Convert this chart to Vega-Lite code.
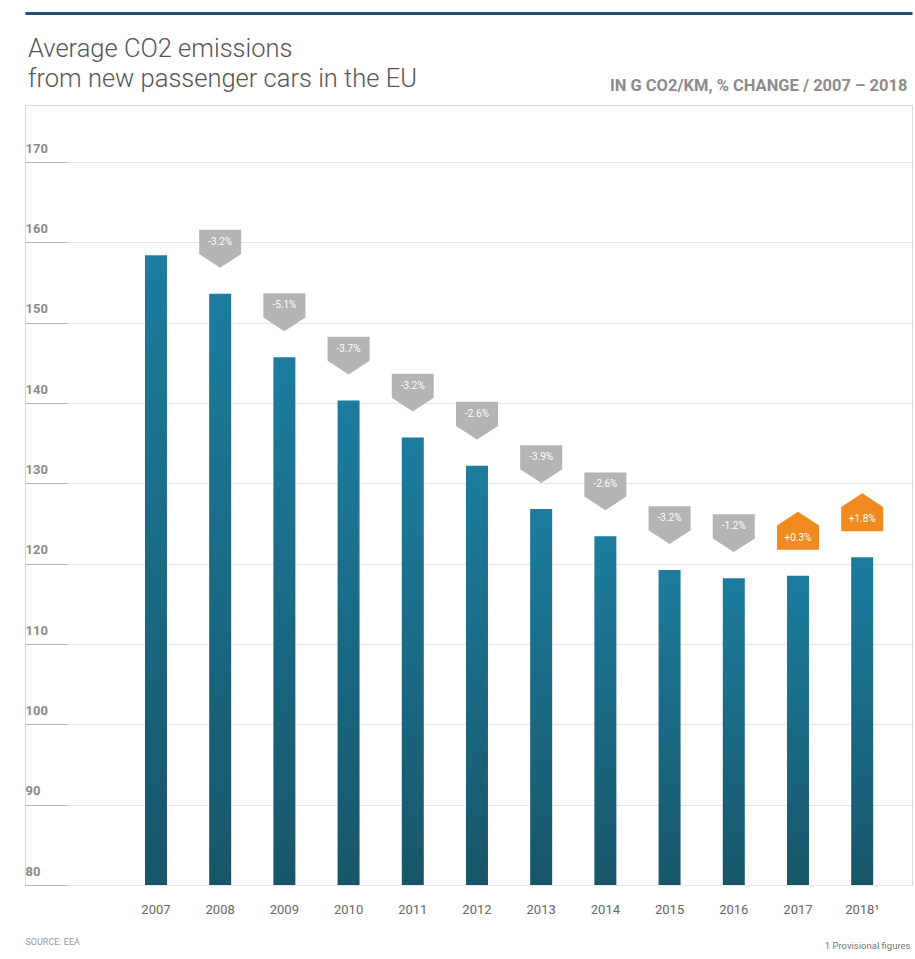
{
  "$schema": "https://vega.github.io/schema/vega-lite/v6.json",
  "autosize": "none",
  "width": 887,
  "height": 780,
  "padding": {"left": 25, "top": 105, "right": 3, "bottom": 74},
  "background": "white",
  "title": {
    "text": ["Average CO2 emissions", "from new passenger cars in the EU"],
    "anchor": "start",
    "frame": "group",
    "font": "Roboto",
    "fontWeight": 300,
    "fontSize": 25.5,
    "lineHeight": 30,
    "color": "#555555",
    "offset": -79,
    "dx": 3
  },
  "config": {
    "view": {"stroke": "#d9d9d9", "strokeWidth": 1},
    "font": "Roboto"
  },
  "data": {
    "values": [
      {"year": "2007", "value": 158.4, "pct": null, "dir": null},
      {"year": "2008", "value": 153.6, "pct": "-3.2%", "dir": "down"},
      {"year": "2009", "value": 145.7, "pct": "-5.1%", "dir": "down"},
      {"year": "2010", "value": 140.3, "pct": "-3.7%", "dir": "down"},
      {"year": "2011", "value": 135.7, "pct": "-3.2%", "dir": "down"},
      {"year": "2012", "value": 132.2, "pct": "-2.6%", "dir": "down"},
      {"year": "2013", "value": 126.8, "pct": "-3.9%", "dir": "down"},
      {"year": "2014", "value": 123.4, "pct": "-2.6%", "dir": "down"},
      {"year": "2015", "value": 119.2, "pct": "-3.2%", "dir": "down"},
      {"year": "2016", "value": 118.2, "pct": "-1.2%", "dir": "down"},
      {"year": "2017", "value": 118.5, "pct": "+0.3%", "dir": "up"},
      {"year": "2018¹", "value": 120.8, "pct": "+1.8%", "dir": "up"}
    ]
  },
  "resolve": {"axis": {"x": "independent"}},
  "layer": [
    {
      "mark": {
        "type": "bar",
        "width": 22,
        "color": {
          "gradient": "linear",
          "x1": 0, "y1": 0, "x2": 0, "y2": 1,
          "stops": [
            {"offset": 0, "color": "#1c7d9e"},
            {"offset": 1, "color": "#175669"}
          ]
        }
      },
      "encoding": {
        "x": {
          "field": "year",
          "type": "nominal",
          "sort": null,
          "scale": {"paddingInner": 0.184, "paddingOuter": 1, "align": 0.816},
          "axis": {
            "orient": "bottom",
            "domain": false,
            "ticks": false,
            "labelAngle": 0,
            "labelPadding": 18,
            "labelFontSize": 13,
            "labelColor": "#666666",
            "title": "SOURCE: EEA",
            "titleAnchor": "start",
            "titleAlign": "left",
            "titleX": 0,
            "titleY": 52,
            "titleFontSize": 9,
            "titleFontWeight": "normal",
            "titleColor": "#999999"
          }
        },
        "y": {
          "field": "value",
          "type": "quantitative",
          "scale": {"domain": [80, 177.1], "nice": false, "zero": false},
          "axis": {
            "values": [80, 90, 100, 110, 120, 130, 140, 150, 160, 170],
            "grid": true,
            "gridColor": "#e6e6e6",
            "domain": false,
            "ticks": true,
            "tickSize": -42,
            "tickColor": "#b5b5b5",
            "labelAlign": "left",
            "labelBaseline": "alphabetic",
            "labelPadding": 42,
            "labelOffset": -10,
            "labelFontSize": 13,
            "labelFontWeight": "bold",
            "labelColor": "#8a8a8a",
            "title": "1  Provisional figures",
            "titleAngle": 0,
            "titleAlign": "right",
            "titleBaseline": "alphabetic",
            "titleX": 885,
            "titleY": 843,
            "titleFontSize": 9.5,
            "titleFontWeight": "normal",
            "titleColor": "#777777"
          }
        },
        "y2": {"datum": 80}
      }
    },
    {
      "transform": [{"filter": "datum.dir != null"}],
      "mark": {"type": "point", "filled": true, "opacity": 1, "size": 1764, "yOffset": -45, "strokeWidth": 0},
      "encoding": {
        "x": {
          "field": "year",
          "type": "nominal",
          "sort": null,
          "axis": {
            "orient": "top",
            "offset": 92,
            "domain": true,
            "domainColor": "#1f4f7a",
            "domainWidth": 3,
            "ticks": false,
            "labels": false,
            "grid": false,
            "title": "IN G CO2/KM, % CHANGE / 2007 – 2018",
            "titleAnchor": "end",
            "titleAlign": "right",
            "titleBaseline": "alphabetic",
            "titleX": 882,
            "titleY": 77,
            "titleFontSize": 16.5,
            "titleFontWeight": "bold",
            "titleColor": "#8c8c8c"
          }
        },
        "y": {"field": "value", "type": "quantitative"},
        "shape": {
          "field": "dir",
          "type": "nominal",
          "scale": {
            "domain": ["down", "up"],
            "range": ["M-1,-0.9L1,-0.9L1,0.25L0,0.9L-1,0.25Z", "M-1,0.9L1,0.9L1,-0.25L0,-0.9L-1,-0.25Z"]
          },
          "legend": null
        },
        "color": {
          "field": "dir",
          "type": "nominal",
          "scale": {"domain": ["down", "up"], "range": ["#b4b4b4", "#ef8a1e"]},
          "legend": null
        }
      }
    },
    {
      "transform": [{"filter": "datum.dir == 'down'"}],
      "mark": {"type": "text", "yOffset": -52, "fontSize": 10, "color": "white", "baseline": "middle"},
      "encoding": {
        "x": {"field": "year", "type": "nominal", "sort": null, "axis": null},
        "y": {"field": "value", "type": "quantitative"},
        "text": {"field": "pct"}
      }
    },
    {
      "transform": [{"filter": "datum.dir == 'up'"}],
      "mark": {"type": "text", "yOffset": -38, "fontSize": 10, "color": "white", "baseline": "middle"},
      "encoding": {
        "x": {"field": "year", "type": "nominal", "sort": null, "axis": null},
        "y": {"field": "value", "type": "quantitative"},
        "text": {"field": "pct"}
      }
    }
  ]
}
